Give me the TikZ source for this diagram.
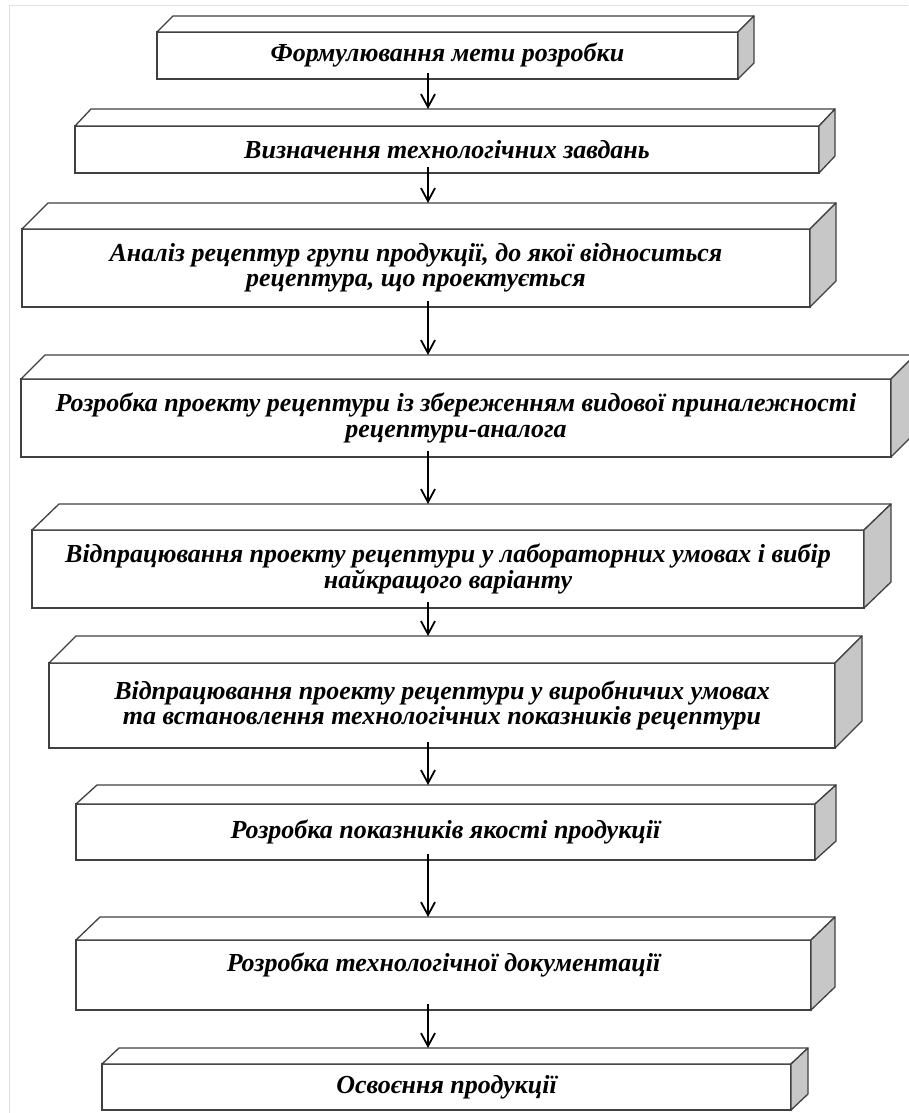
\documentclass[tikz,border=0pt]{standalone}
\usepackage{fontspec}
\setmainfont{Liberation Serif}
\usetikzlibrary{arrows.meta,calc}

\tikzset{
  stage/.style={draw=black!75, line width=1.3pt, fill=white, outer sep=0pt, inner sep=2pt,
    align=center, font=\fontsize{26}{25.5}\selectfont\bfseries\itshape},
  wh/.style 2 args={minimum width=#1pt, minimum height=#2pt},
  edge/.style={draw=black!75, line width=1.3pt, line join=round},
  side/.style={edge, fill=black!22},
  arr/.style={-{Straight Barb[length=13pt,width=14pt,line width=1.8pt]}, line width=1.2pt, shorten <=-6pt},
}

% top and right faces of a box, and the back edge point (<name>t)
\newcommand{\prism}[3]{%
  \filldraw[edge, fill=white] (#1.north west) -- ++(#2,-#3) -- ($(#1.north east)+(#2,-#3)$) -- (#1.north east) -- cycle;
  \filldraw[side] (#1.north east) -- ++(#2,-#3) -- ($(#1.south east)+(#2,-#3)$) -- (#1.south east) -- cycle;
  \coordinate (#1t) at ($(#1.north west)+(#2,-#3)$);
}

\begin{document}
\begin{tikzpicture}[x=1pt,y=-1pt]
  \useasboundingbox (0,0) rectangle (908,1113);
  \draw[black!12, line width=1pt] (9,1113) -- (9,6) -- (908,6);
  \coordinate (axis) at (428,0);

  \node[stage, wh={581}{47}] (b1) at (447.5,55.5) {Формулювання мети розробки};
  \prism{b1}{16}{16}
  \node[stage, wh={744}{47}] (b2) at (447,149.5) {Визначення технологічних завдань};
  \prism{b2}{16}{17}
  \node[stage, wh={788}{78}] (b3) at (416,268) {Аналіз рецептур групи продукції, до якої відноситься\\рецептура, що проектується};
  \prism{b3}{26}{26}
  \node[stage, wh={870}{78}] (b4) at (456,418) {Розробка проекту рецептури із збереженням видової приналежності\\рецептури-аналога};
  \prism{b4}{24}{24}
  \node[stage, wh={832}{78}] (b5) at (448,569) {Відпрацювання проекту рецептури у лабораторних умовах і вибір\\найкращого варіанту};
  \prism{b5}{27}{26}
  \node[stage, wh={786}{85}] (b6) at (442,705.5) {Відпрацювання проекту рецептури у виробничих умовах\\та встановлення технологічних показників рецептури};
  \prism{b6}{27}{27}
  \node[stage, wh={739}{56}] (b7) at (445.5,832) {Розробка показників якості продукції};
  \prism{b7}{21}{19}
  \node[stage, wh={735}{70}] (b8) at (443.5,975) {Розробка технологічної документації\\\mbox{}};
  \prism{b8}{24}{23}
  \node[stage, wh={689}{46}] (b9) at (446.5,1087) {Освоєння продукції};
  \prism{b9}{17}{16}

  \draw[arr] (b1.south -| axis) -- (b2t -| axis);
  \draw[arr] (b2.south -| axis) -- (b3t -| axis);
  \draw[arr] (b3.south -| axis) -- (b4t -| axis);
  \draw[arr] (b4.south -| axis) -- (b5t -| axis);
  \draw[arr] (b5.south -| axis) -- (b6t -| axis);
  \draw[arr] (b6.south -| axis) -- (b7t -| axis);
  \draw[arr] (b7.south -| axis) -- (b8t -| axis);
  \draw[arr] (b8.south -| axis) -- (b9t -| axis);
\end{tikzpicture}
\end{document}
